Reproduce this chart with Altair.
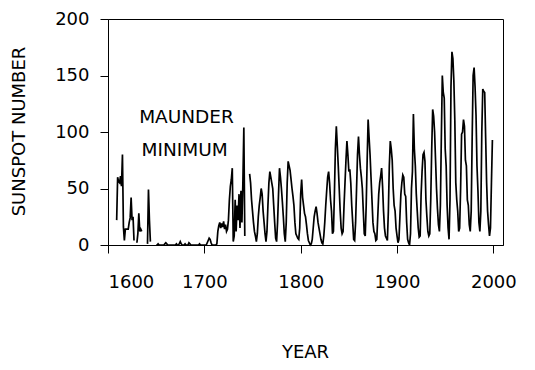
import altair as alt
import pandas as pd

start_year = 1609
vals_1609_1649 = [22, 60, 56, 55, 61, 52, 80, 16, 4, 14, 14, 14, 14, 20, 24, 42, 22, 25, 4,
                  None, None, 2, 10, 28, 12, 14, 12, None, None, None, None, None,
                  1, 49, 22, 3, None, None, None, None, None]
vals_1650_1699 = [0, 0, 1, 0, 0, 0, 0, 0, 0, 1, 2, 1, 0, 0, 0, 0, 0, 0, 0, 0,
                  0, 1, 0, 0, 1, 3, 1, 0, 0, 0, 1, 0, 0, 0, 2, 1, 0, 0, 0, 0,
                  0, 0, 0, 0, 0, 1, 0, 0, 0, 0]
vals_1700_1749 = [0, 0, 0, 2, 4, 6, 5, 2, 0, 0, 0, 0, 0, 1, 12, 17, 20, 15, 19, 16,
                  21, 14, 18, 12, 14, 22, 40, 52, 58, 68, 3, 8, 40, 12, 35, 22, 45, 15, 48, 20,
                  55, 104, 8, None, None, None, None, 63, 55, 40]
vals_1750_1799 = [30, 20, 12, 8, 3, 10, 25, 35, 42, 50, 45, 30, 20, 10, 3, 12, 35, 55, 65, 60,
                  55, 50, 35, 20, 6, 3, 20, 45, 68, 60, 50, 38, 25, 10, 3, 20, 55, 74, 70, 66,
                  58, 50, 43, 35, 20, 10, 8, 6, 5, 15]
vals_1800_1849 = [45, 58, 42, 35, 28, 25, 18, 10, 4, 2, 0, 1, 5, 15, 25, 30, 34, 28, 20, 15,
                  10, 5, 2, 1, 8, 20, 35, 48, 60, 65, 55, 40, 30, 10, 12, 45, 85, 105, 88, 70,
                  50, 30, 15, 10, 12, 35, 55, 75, 92, 80]
vals_1850_1899 = [65, 67, 55, 35, 20, 5, 4, 20, 50, 80, 96, 80, 68, 60, 50, 30, 10, 8, 35, 75,
                  111, 95, 80, 60, 40, 20, 12, 10, 4, 5, 25, 45, 55, 61, 68, 52, 30, 15, 8, 6,
                  4, 30, 70, 92, 85, 75, 50, 35, 30, 15]
vals_1900_1949 = [8, 2, 5, 25, 45, 55, 62, 60, 45, 43, 20, 5, 2, 0, 10, 50, 65, 116, 85, 70,
                  45, 30, 15, 7, 8, 45, 65, 80, 82, 74, 40, 25, 12, 8, 10, 40, 85, 120, 114, 100,
                  75, 50, 32, 18, 12, 35, 95, 150, 135, 130]
vals_1950_1999 = [85, 70, 35, 15, 5, 40, 140, 171, 165, 145, 110, 55, 40, 30, 12, 15, 50, 98, 100, 111,
                  105, 75, 70, 40, 35, 18, 12, 30, 95, 150, 157, 140, 115, 70, 48, 20, 12, 30, 100, 138,
                  136, 135, 95, 55, 30, 18, 8, 15, 55, 93]

values = (vals_1609_1649 + vals_1650_1699 + vals_1700_1749 + vals_1750_1799
          + vals_1800_1849 + vals_1850_1899 + vals_1900_1949 + vals_1950_1999)
years = list(range(start_year, start_year + len(values)))

# split into contiguous segments so gaps break the line
rows = []
seg = 0
prev_none = True
for y, v in zip(years, values):
    if v is None:
        prev_none = True
        continue
    if prev_none:
        seg += 1
        prev_none = False
    rows.append({"year": y, "ssn": v, "seg": seg})
df = pd.DataFrame(rows)

note_text = ["MAUNDER", "MINIMUM"]
note_year = [1681.5, 1679.5]
note_val = [113.5, 84.5]
notes = pd.DataFrame({"year": note_year, "ssn": note_val, "text": note_text})

FONT = "DejaVu Sans"

xscale = alt.Scale(domain=[1600, 2010], nice=False, zero=False)
yscale = alt.Scale(domain=[0, 200], nice=False)

line = alt.Chart(df).mark_line(color="black", strokeWidth=1.7).encode(
    x=alt.X("year:Q", scale=xscale,
            axis=alt.Axis(values=[1600, 1700, 1800, 1900, 2000], format="d",
                          title="YEAR", titleX=197, titleY=107,
                          titleBaseline="middle", titleAlign="center",
                          labelPadding=20)),
    y=alt.Y("ssn:Q", scale=yscale,
            axis=alt.Axis(values=[0, 50, 100, 150, 200], title="SUNSPOT NUMBER",
                          titleX=-89, titleY=112, titleAngle=270,
                          titleBaseline="middle", titleAlign="center",
                          labelPadding=11)),
    detail="seg:N",
)

text = alt.Chart(notes).mark_text(font=FONT, fontSize=18.5, color="black",
                                  baseline="middle", align="center").encode(
    x=alt.X("year:Q", scale=xscale),
    y=alt.Y("ssn:Q", scale=yscale),
    text="text:N",
)

chart = (line + text).properties(
    width=395, height=226,
    autosize=alt.AutoSizeParams(type="none"),
    padding={"left": 100, "top": 11, "right": 20, "bottom": 117},
).configure_view(
    stroke="black", strokeWidth=1
).configure_axis(
    grid=False, domainColor="black", tickColor="black", tickSize=8,
    labelColor="black", titleColor="black",
    labelFont=FONT, labelFontSize=18, titleFont=FONT, titleFontSize=18,
    titleFontWeight="normal", domainWidth=1, tickWidth=1,
)

chart.save("out.html", embed_options={"renderer": "svg", "actions": False})
